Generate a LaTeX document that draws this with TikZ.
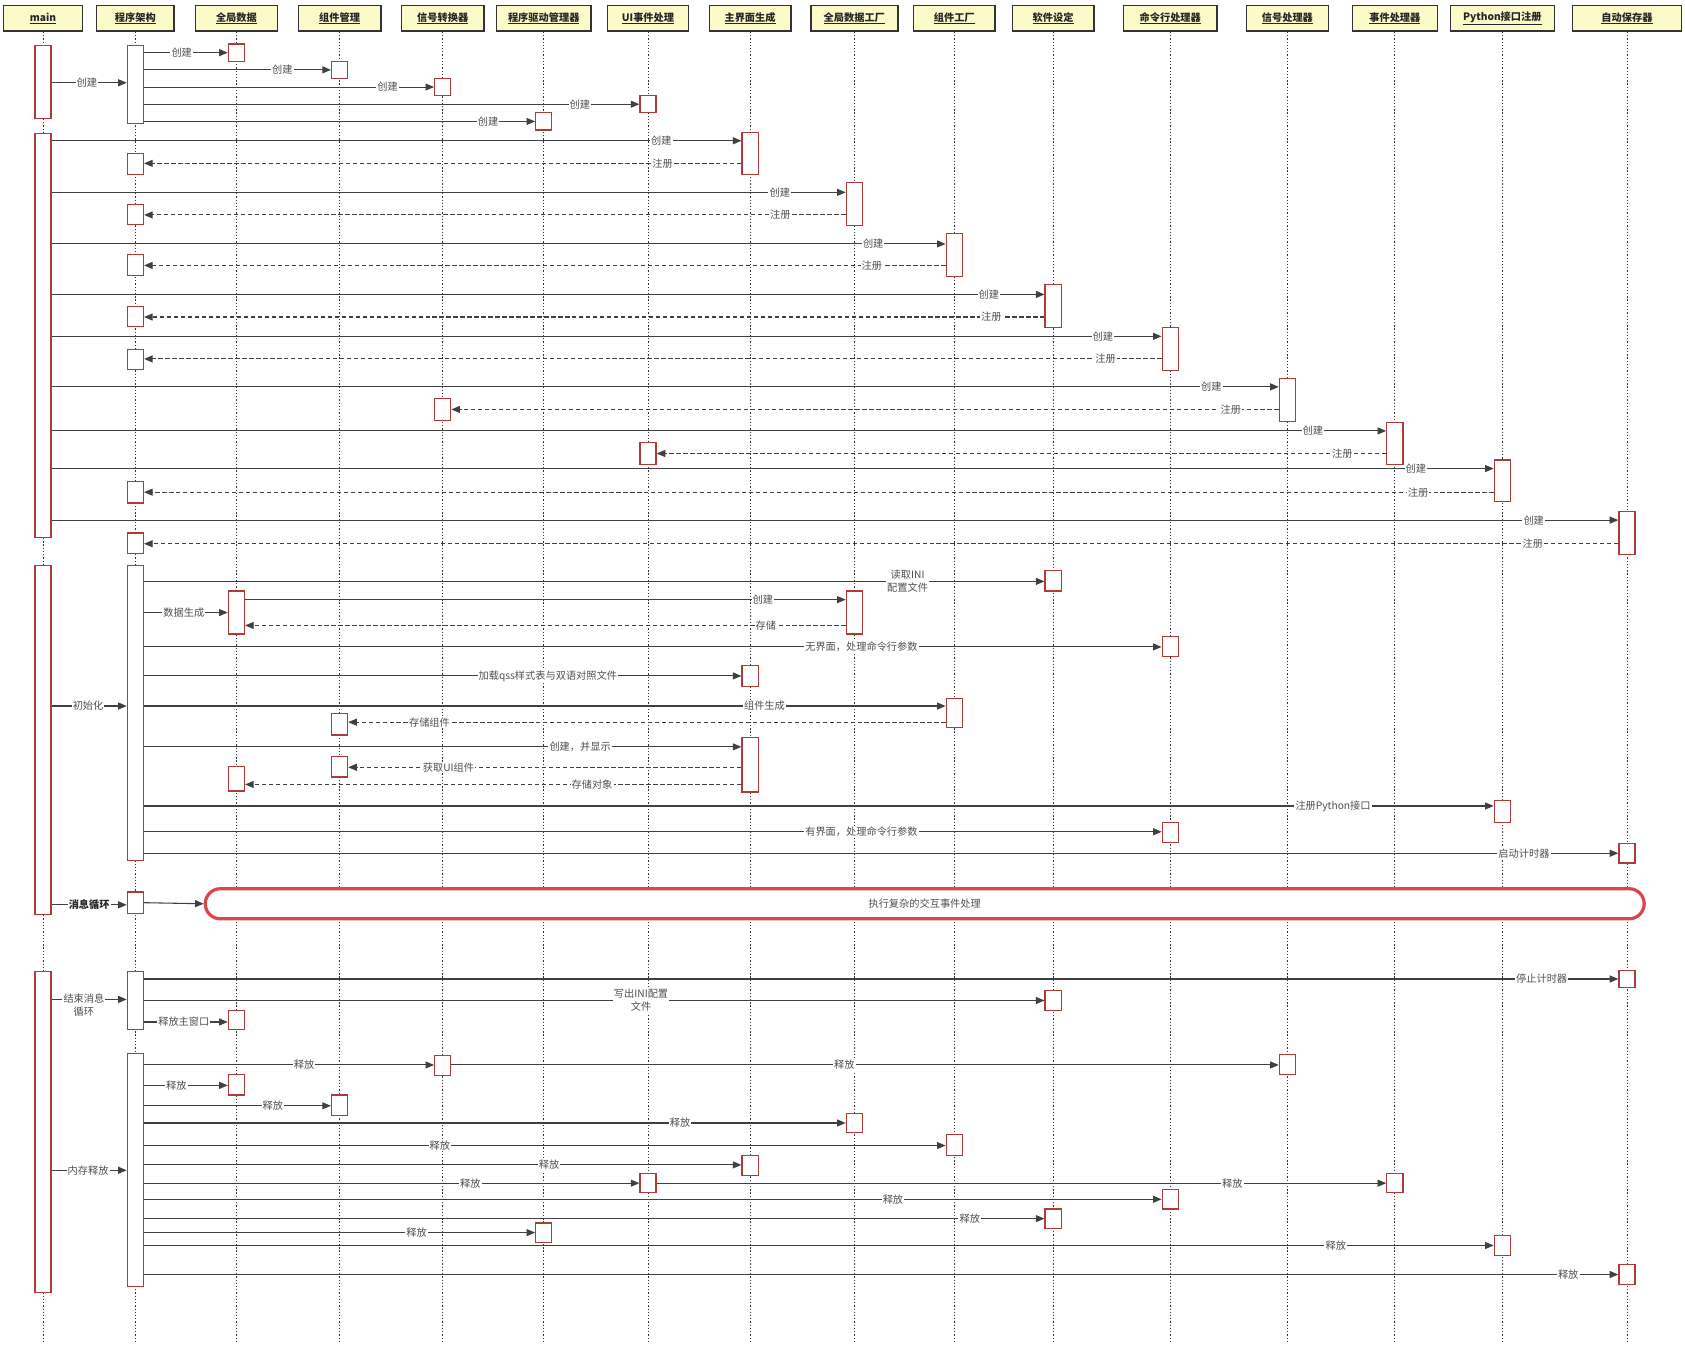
\documentclass[tikz,border=0pt]{standalone}
\usepackage{fontspec}
\setmainfont{Noto Sans CJK SC}
\usetikzlibrary{arrows.meta}
\definecolor{hdrfill}{HTML}{FCFAC8}
\definecolor{actred}{HTML}{B03A3A}
\definecolor{linec}{HTML}{404040}
\definecolor{lifec}{HTML}{333333}
\definecolor{lblc}{HTML}{505050}
\definecolor{loopred}{HTML}{D9474A}
\tikzset{
 hdr/.style={draw=black!80, line width=1.3pt, fill=hdrfill, minimum height=24pt, inner sep=0pt, font=\fontsize{9.5}{11}\selectfont\bfseries, text=black!85},
 life/.style={draw=lifec, line width=0.85pt, dash pattern=on 1.2pt off 1.8pt},
 actbox/.style={draw=actred, line width=1.1pt, fill=white, minimum width=15pt, inner sep=0pt},
 msgline/.style={draw=linec, line width=1pt, -{Triangle[length=8pt,width=6.5pt]}},
 retline/.style={msgline, dash pattern=on 4pt off 2.5pt},
 lbl/.style={fill=white, inner sep=1pt, text=lblc, align=center, font=\fontsize{9.5}{12}\selectfont},
 loopbox/.style={draw=loopred, line width=3pt, fill=white, rounded corners=14pt, inner sep=0pt, text=lblc, font=\fontsize{9.5}{11}\selectfont},
}
\newcommand\act[4]{\pgfmathsetmacro\acth{#4-#3}\pgfmathsetmacro\actc{(#3+#4)/2}\node[actbox,minimum height=\acth pt] (#1) at (#2,\actc) {};}
\newcommand\msg[6][]{\coordinate (yy) at (0,#4); \draw[msgline] (#2.east|-yy) -- (#3.west|-yy) node[lbl,pos=#5,#1]{#6};}
\newcommand\ret[6][]{\coordinate (yy) at (0,#4); \draw[retline] (#2.west|-yy) -- (#3.east|-yy) node[lbl,pos=#5,#1]{#6};}
\begin{document}
\begin{tikzpicture}[x=1pt,y=-1pt]
\fill[white] (0,0) rectangle (1568,1253);
\useasboundingbox (0,0) rectangle (1568,1253);
% headers
\node[hdr, minimum width=73pt] (h0) at (40,17) {\underline{main}};
\node[hdr, minimum width=72pt] (h1) at (126,17) {\underline{程序架构}};
\node[hdr, minimum width=76pt] (h2) at (220,17) {\underline{全局数据}};
\node[hdr, minimum width=77pt] (h3) at (316,17) {\underline{组件管理}};
\node[hdr, minimum width=77pt] (h4) at (412,17) {\underline{信号转换器}};
\node[hdr, minimum width=88pt] (h5) at (506,17) {\underline{程序驱动管理器}};
\node[hdr, minimum width=75pt] (h6) at (603,17) {\underline{UI事件处理}};
\node[hdr, minimum width=76pt] (h7) at (698,17) {\underline{主界面生成}};
\node[hdr, minimum width=81pt] (h8) at (795,17) {\underline{全局数据工厂}};
\node[hdr, minimum width=76pt] (h9) at (888,17) {\underline{组件工厂}};
\node[hdr, minimum width=76pt] (h10) at (980,17) {\underline{软件设定}};
\node[hdr, minimum width=87pt] (h11) at (1089,17) {\underline{命令行处理器}};
\node[hdr, minimum width=76pt] (h12) at (1198,17) {\underline{信号处理器}};
\node[hdr, minimum width=79pt] (h13) at (1298,17) {\underline{事件处理器}};
\node[hdr, minimum width=97pt] (h14) at (1398,17) {\underline{Python接口注册}};
\node[hdr, minimum width=101pt] (h15) at (1514,17) {\underline{自动保存器}};
\coordinate (bot) at (0,1248);
\foreach \i in {0,...,15} \draw[life] (h\i.south) -- (h\i.south |- bot);
% activation boxes
\act{m1}{40}{42}{110}
\act{m2}{40}{124}{500}
\act{m3}{40}{526}{851}
\act{m4}{40}{904}{1203}
\act{p1}{126}{42}{115}
\act{p2}{126}{143}{162}
\act{p3}{126}{190}{209}
\act{p4}{126}{237}{256}
\act{p5}{126}{285}{304}
\act{p6}{126}{325}{344}
\act{p7}{126}{448}{468}
\act{p8}{126}{496}{515}
\act{p9}{126}{526}{801}
\act{p10}{126}{830}{850}
\act{p11}{126}{904}{958}
\act{p12}{126}{980}{1197}
% phase 1 targets
\act{gd1}{220}{41}{57}
\act{cm1}{316}{57}{73}
\act{sg1}{412}{73}{89}
\act{ui1}{603}{89}{105}
\act{dv1}{506}{105}{121}
% phase 2
\act{mu1}{698}{123}{162}
\act{gf1}{795}{170}{210}
\act{cf1}{888}{217}{257}
\act{st1}{980}{265}{305}
\act{cl1}{1089}{305}{345}
\act{sp1}{1198}{352}{392}
\act{sg2}{412}{371}{391}
\act{ev1}{1298}{393}{432}
\act{ui2}{603}{412}{432}
\act{py1}{1398}{428}{467}
\act{au1}{1514}{476}{516}
% phase 3
\act{st2}{980}{531}{550}
\act{gd2}{220}{550}{590}
\act{gf2}{795}{550}{590}
\act{cl2}{1089}{592}{611}
\act{mu2}{698}{619}{639}
\act{cf2}{888}{650}{677}
\act{cm2}{316}{664}{684}
\act{mu3}{698}{686}{737}
\act{cm3}{316}{704}{723}
\act{gd3}{220}{713}{736}
\act{py2}{1398}{745}{765}
\act{cl3}{1089}{765}{784}
\act{au2}{1514}{785}{803}
% phase 5
\act{au3}{1514}{903}{919}
\act{st3}{980}{922}{940}
\act{gd4}{220}{940}{958}
\act{sg3}{412}{982}{1001}
\act{sp2}{1198}{981}{1000}
\act{gd5}{220}{1000}{1019}
\act{cm4}{316}{1019}{1038}
\act{gf3}{795}{1036}{1054}
\act{cf3}{888}{1056}{1075}
\act{mu4}{698}{1075}{1094}
\act{ui3}{603}{1092}{1110}
\act{ev2}{1298}{1092}{1110}
\act{cl4}{1089}{1107}{1125}
\act{st4}{980}{1125}{1143}
\act{dv2}{506}{1138}{1156}
\act{py3}{1398}{1150}{1168}
\act{au4}{1514}{1177}{1195}
% phase 1 messages
\msg{m1}{p1}{77}{0.47}{创建}
\msg{p1}{gd1}{49}{0.45}{创建}
\msg{p1}{cm1}{65}{0.74}{创建}
\msg{p1}{sg1}{81}{0.84}{创建}
\msg{p1}{ui1}{97}{0.88}{创建}
\msg{p1}{dv1}{113}{0.88}{创建}
% phase 2 messages
\msg{m2}{mu1}{131}{0.884}{创建}
\ret{mu1}{p2}{152}{0.132}{注册}
\msg{m2}{gf1}{179}{0.917}{创建}
\ret{gf1}{p3}{200}{0.093}{注册}
\msg{m2}{cf1}{227}{0.919}{创建}
\ret{cf1}{p4}{247}{0.092}{注册}
\msg{m2}{st1}{274}{0.944}{创建}
\ret{st1}{p5}{295}{0.059}{注册}
\msg{m2}{cl1}{313}{0.947}{创建}
\ret{cl1}{p6}{334}{0.055}{注册}
\msg{m2}{sp1}{360}{0.945}{创建}
\ret{sp1}{sg2}{381}{0.058}{注册}
\msg{m2}{ev1}{401}{0.945}{创建}
\ret{ev1}{ui2}{422}{0.060}{注册}
\msg{m2}{py1}{436}{0.946}{创建}
\ret{py1}{p7}{458}{0.056}{注册}
\msg{m2}{au1}{484}{0.946}{创建}
\ret{au1}{p8}{506}{0.058}{注册}
% phase 3 messages
\msg{m3}{p9}{657}{0.485}{初始化}
\msg{p9}{st2}{541}{0.848}{读取INI\\配置文件}
\msg{p9}{gd2}{570}{0.475}{数据生成}
\msg{gd2}{gf2}{558}{0.862}{创建}
\ret{gf2}{gd2}{582}{0.133}{存储}
\msg{p9}{cl2}{602}{0.705}{无界面，处理命令行参数}
\msg{p9}{mu2}{629}{0.676}{加载qss样式表与双语对照文件}
\msg{p9}{cf2}{657}{0.774}{组件生成}
\ret{cf2}{cm2}{672}{0.864}{存储组件}
\msg{p9}{mu3}{695}{0.73}{创建，并显示}
\ret{mu3}{cm3}{714}{0.745}{获取UI组件}
\ret{mu3}{gd3}{730}{0.301}{存储对象}
\msg{p9}{py2}{750}{0.881}{注册Python接口}
\msg{p9}{cl3}{774}{0.705}{有界面，处理命令行参数}
\msg{p9}{au2}{794}{0.936}{启动计时器}
% phase 4
\msg[text=black!85]{m3}{p10}{842}{0.5}{\bfseries 消息循环}
\node[loopbox, minimum width=1339pt, minimum height=28pt] (loop) at (860.5,841) {执行复杂的交互事件处理};
\draw[msgline] (p10.east) -- (loop.west);
% phase 5
\msg[yshift=-5pt]{m4}{p11}{930}{0.43}{结束消息\\循环}
\msg{p11}{au3}{911}{0.948}{停止计时器}
\msg{p11}{st3}{931}{0.552}{写出INI配置\\文件}
\msg{p11}{gd4}{951}{0.475}{释放主窗口}
\msg{m4}{p12}{1089}{0.485}{内存释放}
\msg{p12}{sg3}{991}{0.552}{释放}
\msg{sg3}{sp2}{991}{0.475}{释放}
\msg{p12}{gd5}{1010}{0.386}{释放}
\msg{p12}{cm4}{1029}{0.689}{释放}
\msg{p12}{gf3}{1045}{0.764}{释放}
\msg{p12}{cf3}{1066}{0.369}{释放}
\msg{p12}{mu4}{1084}{0.678}{释放}
\msg{p12}{ui3}{1101}{0.659}{释放}
\msg{ui3}{ev2}{1101}{0.789}{释放}
\msg{p12}{cl4}{1116}{0.736}{释放}
\msg{p12}{st4}{1134}{0.917}{释放}
\msg{p12}{dv2}{1147}{0.697}{释放}
\msg{p12}{py3}{1159}{0.883}{释放}
\msg{p12}{au4}{1186}{0.966}{释放}
\end{tikzpicture}
\end{document}
